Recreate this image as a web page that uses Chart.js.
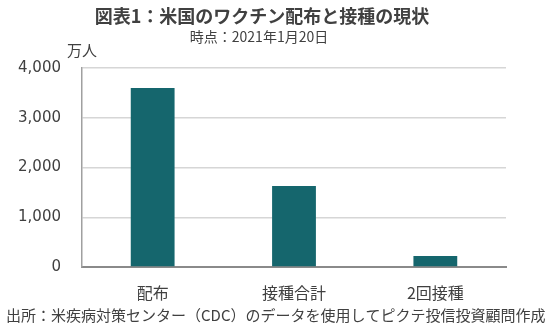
<!DOCTYPE html>
<html>
<head>
<meta charset="utf-8">
<script src="https://cdn.jsdelivr.net/npm/chart.js@4"></script>
<style>
  html, body { margin: 0; padding: 0; background: #fff; }
  #wrap { width: 550px; height: 331px; position: relative; }
</style>
</head>
<body>
<div id="wrap"><canvas id="chart"></canvas></div>
<script>
const categories = ["配布", "接種合計", "2回接種"];
const values = [3600, 1630, 220];   // 万人
const yTicks = [0, 1000, 2000, 3000, 4000];

const titleText = "図表1：米国のワクチン配布と接種の現状";
const subtitleText = "時点：2021年1月20日";
const unitText = "万人";
const sourceText = "出所：米疾病対策センター（CDC）のデータを使用してピクテ投信投資顧問作成";

const jp = '"Noto Sans CJK JP", "Noto Sans", sans-serif';
const textColor = "#404040";

// titles, unit label and source line drawn straight onto the canvas
const captions = {
  id: "captions",
  afterDraw(chart) {
    const ctx = chart.ctx;
    ctx.save();
    ctx.fillStyle = textColor;
    ctx.textBaseline = "middle";
    ctx.textAlign = "center";
    ctx.font = "bold 18px " + jp;
    ctx.fillText(titleText, 262, 16);
    ctx.font = "14px " + jp;
    ctx.fillText(subtitleText, 259, 37);
    ctx.textAlign = "left";
    ctx.font = "15px " + jp;
    ctx.fillText(unitText, 67, 50);
    ctx.fillText(sourceText, 6, 315);
    ctx.restore();
  }
};

new Chart(document.getElementById("chart"), {
  type: "bar",
  data: {
    labels: categories,
    datasets: [{
      data: values,
      backgroundColor: "#15666d",
      borderWidth: 0,
      categoryPercentage: 1,
      barPercentage: 0.31,
    }],
  },
  options: {
    responsive: true,
    maintainAspectRatio: false,
    animation: false,
    layout: { padding: { top: 68, left: 0, right: 44, bottom: 24 } },
    plugins: {
      legend: { display: false },
      tooltip: { enabled: false },
    },
    scales: {
      x: {
        grid: { display: false, drawTicks: false },
        border: { color: "#8a8a8a", width: 2 },
        ticks: {
          padding: 16,
          color: textColor,
          font: { family: jp, size: 16 },
        },
        afterFit: (s) => { s.height = 40; },
      },
      y: {
        min: 0,
        max: 4000,
        afterBuildTicks: (s) => { s.ticks = yTicks.map(v => ({ value: v })); },
        grid: { color: "#d6d6d6", lineWidth: 1.5, drawTicks: false },
        border: { color: "#a0a0a0", width: 1.5 },
        ticks: {
          padding: 21,
          color: textColor,
          font: { family: '"DejaVu Sans", sans-serif', size: 15 },
          callback: (v) => v.toLocaleString("en-US"),
        },
        afterFit: (s) => { s.width = 82; },
      },
    },
  },
  plugins: [captions],
});
</script>
</body>
</html>
